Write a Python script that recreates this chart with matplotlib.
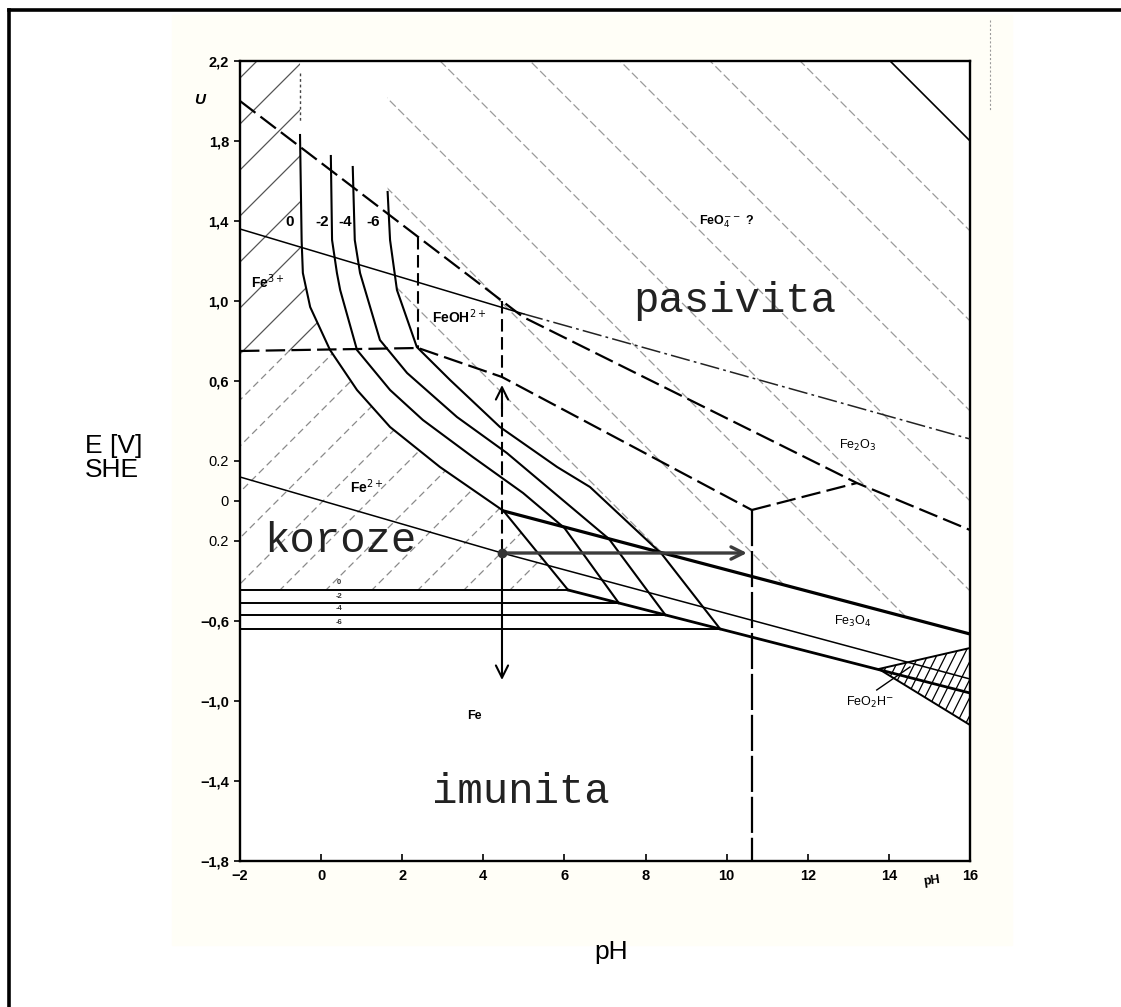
import matplotlib
matplotlib.use("Agg")
import matplotlib.pyplot as plt
import numpy as np
from matplotlib.lines import Line2D
from matplotlib.patches import Polygon, Rectangle
from matplotlib.transforms import ScaledTranslation

plt.rcParams["lines.scale_dashes"] = False
plt.rcParams["font.family"] = ["Liberation Sans", "DejaVu Sans"]

PH_RANGE = (-2, 16)
E_RANGE = (-1.8, 2.2)

# Fe(III)/Fe(II) -> oxide boundaries, one curve per log c = 0, -2, -4, -6
ph_c0 = [-0.52, -0.48, -0.45, -0.27, 0.22, 0.885, 1.70, 2.93, 4.50, 6.09]
e_c0 = [1.83, 1.30, 1.14, 0.97, 0.755, 0.555, 0.37, 0.17, -0.05, -0.445]
ph_c2 = [0.24, 0.27, 0.39, 0.47, 0.885, 1.70, 2.51, 3.74, 4.98, 6.00, 7.34]
e_c2 = [1.725, 1.305, 1.14, 1.055, 0.755, 0.555, 0.405, 0.22, 0.04, -0.135, -0.51]
ph_c4 = [0.78, 0.83, 0.96, 1.45, 2.12, 3.35, 4.58, 7.10, 8.49]
e_c4 = [1.67, 1.305, 1.14, 0.805, 0.64, 0.42, 0.24, -0.19, -0.57]
ph_c6 = [1.64, 1.70, 1.87, 2.36, 3.18, 4.41, 5.82, 6.63, 8.40, 9.84]
e_c6 = [1.545, 1.305, 1.055, 0.77, 0.605, 0.37, 0.17, 0.07, -0.265, -0.64]
conc_labels = ["0", "-2", "-4", "-6"]
conc_label_ph = [-0.77, 0.02, 0.59, 1.28]

# Fe2+/Fe levels and where they meet the Fe3O4/Fe boundary
fe_levels = [-0.445, -0.51, -0.57, -0.64]
fe_level_ends = [6.09, 7.34, 8.49, 9.84]

# oxide boundaries
hem_ph, hem_e = [4.50, 16.0], [-0.05, -0.665]        # Fe2O3 / Fe3O4
mag_ph, mag_e = [6.09, 16.0], [-0.445, -0.96]        # Fe3O4 / Fe
tri_ph, tri_e = [16.0, 13.75, 16.0], [-0.735, -0.84, -1.12]   # HFeO2- wedge
leader_ph, leader_e = [13.70, 14.52], [-0.945, -0.83]

# water lines
h2_ph, h2_e = [-2.0, 4.46, 16.0], [0.12, -0.26, -0.89]
o2_ph, o2_e = [-2.0, 5.0], [1.36, 0.935]
o2b_ph, o2b_e = [5.0, 16.0], [0.935, 0.31]

# dashed boundaries of the hydrolysed species
upper_ph, upper_e = [-2.0, 4.98, 13.21, 16.0], [2.0, 0.92, 0.09, -0.145]
lower_ph, lower_e = [-2.0, 2.39, 4.46, 10.62], [0.75, 0.765, 0.62, -0.045]
kink_ph, kink_e = [10.62, 13.21], [-0.045, 0.09]
split_ph, split_e = [10.62, 10.62], [-0.045, -1.8]
feoh_ph = [2.39, 4.46]
feoh_top = [1.32, 1.0]
feoh_bottom = [0.765, 0.62]
top_dot_ph, top_dot_e = [-0.52, -0.52], [2.14, 1.9]

# working point and the arrows leaving it
point_ph, point_e = 4.46, -0.26
arrow_up_e, arrow_down_e, arrow_right_ph = 0.58, -0.895, 10.5

y_ticks = [2.2, 1.8, 1.4, 1.0, 0.6, 0.2, 0.0, -0.2, -0.6, -1.0, -1.4, -1.8]
y_ticklabels = ["2,2", "1,8", "1,4", "1,0", "0,6", "0.2", "0", "0.2",
                "\u22120,6", "\u22121,0", "\u22121,4", "\u22121,8"]
x_ticks = list(range(-2, 17, 2))
x_ticklabels = [str(t).replace("-", "\u2212") for t in x_ticks]

W, H = 1121, 1007
AX_LEFT, AX_TOP, AX_W, AX_H = 240, 61, 730, 800
PX_PH = AX_W / (PH_RANGE[1] - PH_RANGE[0])
PX_E = AX_H / (E_RANGE[1] - E_RANGE[0])


def hatch(ax, poly_ph, poly_e, px_slope, spacing_px, anchor, e_band=None, **style):
    """Parallel lines through anchor, spacing_px apart vertically, clipped to a polygon."""
    slope = px_slope * PX_PH / PX_E
    step = spacing_px / PX_E
    clip = Polygon(np.column_stack([poly_ph, poly_e]), closed=True,
                   transform=ax.transData)
    c0 = anchor[1] - slope * anchor[0]
    cs = [y - slope * x for x in PH_RANGE for y in E_RANGE]
    kmin = int(np.floor((min(cs) - c0) / step))
    kmax = int(np.ceil((max(cs) - c0) / step))
    lo, hi = e_band or E_RANGE
    lines = {}
    for k in range(kmin, kmax + 1):
        c = c0 + k * step
        ln, = ax.plot([(lo - c) / slope, (hi - c) / slope], [lo, hi], **style)
        ln.set_clip_path(clip)
        lines[k] = ln
    return lines


fig = plt.figure(figsize=(W / 100, H / 100), dpi=100)
fig.patches.append(Rectangle((172 / W, 1 - 945 / H), 840 / W, 930 / H,
                             transform=fig.transFigure, color="#fffef7", zorder=-5))
for xs, ys in [([9 / W, 9 / W], [0, 1 - 9.5 / H]), ([9 / W, 1], [1 - 9.5 / H, 1 - 9.5 / H])]:
    fig.add_artist(Line2D(xs, ys, transform=fig.transFigure, color="black", lw=2.6))

ax = fig.add_axes([AX_LEFT / W, 1 - (AX_TOP + AX_H) / H, AX_W / W, AX_H / H])
ax.set_facecolor("white")

# corrosion field (left of the log c = 0 curve)
k_ph = [-2.0, -0.52] + ph_c0 + [-2.0]
k_e = [2.2, 2.2] + e_c0 + [e_c0[-1]]
hatch(ax, k_ph, k_e, 1, 46, (-2.0, 1.655), e_band=(0.75, 2.2),
      color="#555555", lw=0.9, zorder=1)
hatch(ax, k_ph, k_e, 1, 46, (-2.0, 1.655), e_band=(-0.45, 0.75),
      color="#8a8a8a", lw=0.9, ls=(0, (5, 3)), zorder=1)

# passivity field (right of the log c = -6 curve, above the Fe2O3/Fe3O4 line)
p_ph = [ph_c6[0], 16.0, 16.0] + ph_c6[-2::-1] + [ph_c6[0]]
p_e = [2.2, 2.2, hem_e[1]] + e_c6[-2::-1] + [2.2]
pass_lines = hatch(ax, p_ph, p_e, -1, 90, (14.03, 2.2),
                   color="#9a9a9a", lw=0.9, ls=(0, (6, 2.5)), zorder=1)
pass_lines[0].set(color="black", ls="-", lw=1.2)

hatch(ax, tri_ph, tri_e, 2, 18, (16.0, -0.8), color="black", lw=0.9, zorder=2)

# concentration curves and Fe2+/Fe levels
for ph, e in [(ph_c0, e_c0), (ph_c2, e_c2), (ph_c4, e_c4), (ph_c6, e_c6)]:
    ax.plot(ph, e, color="black", lw=1.5, zorder=3, solid_joinstyle="round")
for lvl, end in zip(fe_levels, fe_level_ends):
    ax.plot([PH_RANGE[0], end], [lvl, lvl], color="black", lw=1.4, zorder=3)
for lab, x in zip(conc_labels, conc_label_ph):
    ax.text(x, 1.395, lab, ha="center", va="center", fontsize=11, fontweight="bold")
for lab, lvl in zip(conc_labels, fe_levels):
    ax.text(0.45, lvl + 0.035, lab, ha="center", va="center", fontsize=5.5,
            fontweight="bold", color="#333333")

ax.plot(hem_ph, hem_e, color="black", lw=2.3, zorder=3)
ax.plot(mag_ph, mag_e, color="black", lw=2.0, zorder=3)
ax.plot(tri_ph, tri_e, color="black", lw=1.4, zorder=3)
ax.plot(leader_ph, leader_e, color="black", lw=1.0, zorder=3)

ax.plot(h2_ph, h2_e, color="black", lw=1.1, zorder=3)
ax.plot(o2_ph, o2_e, color="black", lw=1.1, zorder=3)
ax.plot(o2b_ph, o2b_e, color="#222222", lw=1.1, ls=(0, (14, 3, 2, 3)), zorder=3)

dash = dict(color="black", lw=1.6, ls=(0, (14, 4.5)), zorder=3)
ax.plot(upper_ph, upper_e, **dash)
ax.plot(lower_ph, lower_e, **dash)
ax.plot(kink_ph, kink_e, **dash)
ax.plot(split_ph, split_e, color="black", lw=1.6, ls=(0, (26, 3.5)), zorder=3)
for x, top, bot in zip(feoh_ph, feoh_top, feoh_bottom):
    ax.plot([x, x], [top, bot], color="black", lw=1.5, ls=(0, (9, 4)), zorder=3)
ax.plot(top_dot_ph, top_dot_e, color="#444444", lw=1.0, ls=(0, (2, 2)), zorder=3)

# working point with the three arrows
ax.plot([point_ph, point_ph], [point_e, arrow_up_e - 0.06], color="black", lw=1.5,
        ls=(0, (10, 4)), zorder=4)
head = dict(arrowstyle="->", lw=1.5, color="black", mutation_scale=22, shrinkA=0, shrinkB=0)
ax.annotate("", xy=(point_ph, arrow_up_e), xytext=(point_ph, arrow_up_e - 0.12),
            arrowprops=head, zorder=4)
ax.annotate("", xy=(point_ph, arrow_down_e), xytext=(point_ph, point_e),
            arrowprops=head, zorder=4)
ax.annotate("", xy=(arrow_right_ph, point_e), xytext=(point_ph, point_e),
            arrowprops=dict(head, lw=2.4, color="#3c3c3c"), zorder=4)
ax.plot([point_ph], [point_e], "o", color="#333333", ms=6, zorder=5)

# field labels
mono = dict(family="Liberation Mono", fontsize=30.5, color="#222222")
ax.text(0.465, -0.255, "koroze", ha="center", va="baseline", **mono)
ax.text(10.19, 0.945, "pasivita", ha="center", va="baseline", **mono)
ax.text(4.93, -1.51, "imunita", ha="center", va="baseline", **mono)

small = dict(fontsize=10, fontweight="bold", ha="center", va="center")
ax.text(-1.31, 1.095, r"Fe$^{3+}$", **small)
ax.text(3.40, 0.92, r"FeOH$^{2+}$", **small)
ax.text(1.13, 0.07, r"Fe$^{2+}$", **small)
ax.text(10.0, 1.395, r"FeO$_4^{--}$ ?", fontsize=9, fontweight="bold", ha="center", va="center")
ax.text(13.24, 0.28, r"Fe$_2$O$_3$", fontsize=9, ha="center", va="center")
ax.text(13.11, -0.60, r"Fe$_3$O$_4$", fontsize=9, ha="center", va="center")
ax.text(13.53, -1.005, r"FeO$_2$H$^{-}$", fontsize=9, ha="center", va="center")
ax.text(3.77, -1.075, "Fe", fontsize=9, fontweight="bold", ha="center", va="center")
ax.text(-2.99, 2.005, "U", fontsize=11, fontweight="bold", style="italic",
        ha="center", va="center", clip_on=False)
ax.text(15.05, -1.9, "pH", fontsize=9, fontweight="bold", rotation=8,
        ha="center", va="center", clip_on=False)
ax.plot([16.49, 16.49], [2.405, 1.955], color="#9a9a9a", lw=0.8, ls=(0, (1.5, 1.5)),
        clip_on=False)

ax.set_xlim(*PH_RANGE)
ax.set_ylim(*E_RANGE)
ax.set_xticks(x_ticks)
ax.set_xticklabels(x_ticklabels, fontsize=10.5, fontweight="bold")
ax.set_yticks(y_ticks)
ax.set_yticklabels(y_ticklabels, fontsize=10.5, fontweight="bold")
for lab in ax.get_yticklabels()[5:8]:
    lab.set_fontweight("normal")
last = ax.get_xticklabels()[-1]
last.set_transform(last.get_transform() + ScaledTranslation(0, 8 / 72, fig.dpi_scale_trans))
ax.tick_params(axis="x", direction="in", length=5, width=1.2, pad=6)
ax.tick_params(axis="y", direction="out", length=4, width=1.2, pad=4)
for sp in ax.spines.values():
    sp.set_linewidth(1.7)

fig.text(114 / W, 1 - 446 / H, "E [V]", fontsize=19, ha="center", va="center")
fig.text(112 / W, 1 - 470 / H, "SHE", fontsize=19, ha="center", va="center")
fig.text(611 / W, 1 - 952 / H, "pH", fontsize=19, ha="center", va="center")

fig.savefig("out.png", dpi=100)
